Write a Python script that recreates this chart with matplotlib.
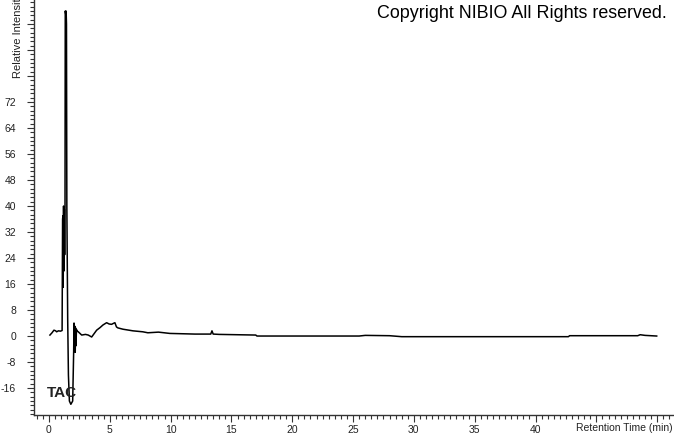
import matplotlib
matplotlib.use("Agg")
import matplotlib.pyplot as plt
from matplotlib.ticker import MultipleLocator, FuncFormatter

# Retention time (min) and relative intensity
time_min = [0.08, 0.25, 0.41, 0.55, 0.63, 0.78, 0.95, 1.08, 1.12, 1.15, 1.17, 1.20,
            1.23, 1.26, 1.29, 1.32, 1.34, 1.38, 1.41, 1.44, 1.47, 1.50, 1.54, 1.60,
            1.68, 1.80, 1.95, 2.03, 2.06, 2.10, 2.13, 2.16, 2.19, 2.22, 2.26, 2.32,
            2.41, 2.69, 3.0, 3.23, 3.51, 3.92, 4.20, 4.44, 4.74, 4.95, 5.15, 5.30,
            5.42, 5.55, 5.67, 6.08, 6.90, 7.72, 8.13, 9.0, 9.94, 11.0, 12.0, 13.3,
            13.4, 13.5, 14.0, 15.5, 17.0, 17.1, 18.7, 22.0, 25.5, 26.0, 28.0, 29.0,
            35.0, 42.7, 42.8, 48.4, 48.6, 49.0, 49.96]
intensity = [0.3, 1.0, 1.8, 1.6, 1.3, 1.6, 1.5, 1.7, 36, 37, 15, 40,
             20, 39, 25, 40, 100, 99, 100, 96, 40, 25, 5, -12,
             -20, -21, -20, -5, 4, -4, 3, -5, 2.5, -3, 2, 1.5,
             1.3, 0.3, 0.5, 0.3, -0.3, 1.8, 2.6, 3.4, 4.1, 3.7, 3.6, 3.9,
             4.1, 2.8, 2.5, 2.1, 1.6, 1.3, 1.0, 1.2, 0.8, 0.7, 0.6, 0.6,
             1.6, 0.6, 0.5, 0.4, 0.3, 0.0, 0.0, 0.0, 0.0, 0.2, 0.1, -0.2,
             -0.2, -0.2, 0.1, 0.1, 0.4, 0.2, 0.0]

x_major = list(range(0, 51, 5))
y_major = list(range(-16, 100, 8))
x_label_max = 40
y_label_max = 72

plt.rcParams['font.family'] = ['Liberation Sans', 'DejaVu Sans']

W, H = 674, 434
fig = plt.figure(figsize=(W / 100, H / 100), dpi=100)
left_px, right_px, bottom_px, top_px = 34, 673, 415, 0
ax = fig.add_axes([left_px / W, 1 - bottom_px / H,
                   (right_px - left_px) / W, (bottom_px - top_px) / H])

ax.plot(time_min, intensity, color='black', lw=1.1)

ax.set_xlim(-1.23, 51.3)
ax.set_ylim(-24.3, 103.4)

for s in ['top', 'right']:
    ax.spines[s].set_visible(False)
for s in ['left', 'bottom']:
    ax.spines[s].set_color('#333333')
    ax.spines[s].set_linewidth(1.0)

ax.set_xticks(x_major)
ax.set_yticks(y_major)
ax.xaxis.set_minor_locator(MultipleLocator(0.5))
ax.yaxis.set_minor_locator(MultipleLocator(8 / 6))
ax.xaxis.set_major_formatter(FuncFormatter(lambda v, p: f"{v:g}" if v <= x_label_max else ""))
ax.yaxis.set_major_formatter(FuncFormatter(lambda v, p: f"{v:g}" if v <= y_label_max else ""))
ax.tick_params(which='major', length=5, width=0.8, color='#333333', labelsize=7.5,
               labelcolor='#222222')
ax.tick_params(which='minor', length=3, width=0.8, color='#333333')
ax.tick_params(axis='y', which='major', pad=8)
ax.tick_params(axis='x', which='major', pad=2)

fig.text(667 / W, 1 - 13 / H, "Copyright NIBIO All Rights reserved.",
         ha='right', va='center', fontsize=12.9, color='black')
fig.text(18 / W, 1 - 78 / H, "Relative Intensity", rotation=90,
         ha='center', va='bottom', fontsize=8, color='#222222')
fig.text(673 / W, 1 - 428 / H, "Retention Time (min)",
         ha='right', va='center', fontsize=7.5, color='#222222')
fig.text(47 / W, 1 - 393 / H, "TAC", ha='left', va='center',
         fontsize=11, fontweight='bold', color='#222222')

fig.savefig("out.png", dpi=100)
